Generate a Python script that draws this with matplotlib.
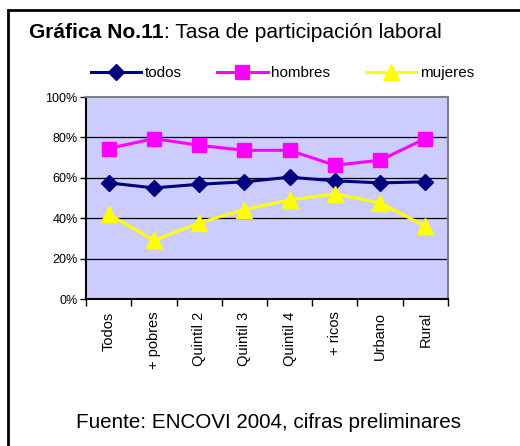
import matplotlib
matplotlib.use("Agg")
import matplotlib.pyplot as plt
from matplotlib.patches import Rectangle
from matplotlib.ticker import FixedLocator, FuncFormatter

plt.rcParams['font.family'] = ['Liberation Sans', 'DejaVu Sans']

categories = ["Todos", "+ pobres", "Quintil 2", "Quintil 3", "Quintil 4", "+ ricos", "Urbano", "Rural"]
todos = [57.5, 55.0, 56.8, 58.0, 60.3, 58.5, 57.5, 58.0]
hombres = [74.5, 79.4, 76.1, 73.6, 73.6, 66.2, 68.7, 79.4]
mujeres = [42.0, 29.0, 37.7, 44.3, 49.0, 52.0, 47.6, 36.0]
yticks = [0, 20, 40, 60, 80, 100]

W, H = 520, 446
fig = plt.figure(figsize=(W / 100, H / 100), dpi=100)
ax = fig.add_axes([86 / W, 1 - 299 / H, (448 - 86) / W, (299 - 97) / H])
ax.set_facecolor('#CCCCFF')

x = [i + 0.5 for i in range(len(categories))]
l1, = ax.plot(x, todos, color='#000080', lw=2.2, marker='D', ms=8, mec='#000080', mfc='#000080', label='todos', zorder=5)
l2, = ax.plot(x, hombres, color='#FF00FF', lw=2.2, marker='s', ms=10, mec='#FF00FF', mfc='#FF00FF', label='hombres', zorder=5)
l3, = ax.plot(x, mujeres, color='#FFFF00', lw=2.2, marker='^', ms=11, mec='#FFFF00', mfc='#FFFF00', label='mujeres', zorder=5)

ax.set_xlim(0, len(categories))
ax.set_ylim(0, 100)
ax.yaxis.set_major_locator(FixedLocator(yticks))
ax.yaxis.set_major_formatter(FuncFormatter(lambda v, p: f"{int(v)}%"))
ax.xaxis.set_major_locator(FixedLocator(list(range(len(categories) + 1))))
ax.xaxis.set_major_formatter(FuncFormatter(lambda v, p: ""))
ax.xaxis.set_minor_locator(FixedLocator(x))
ax.set_xticklabels(categories, minor=True, rotation=90, fontsize=10.5, va='top', ha='center')
ax.tick_params(axis='x', which='minor', length=0, pad=9)
ax.tick_params(axis='x', which='major', length=5, width=1, direction='out', color='black')
ax.tick_params(axis='y', length=4, width=1, direction='out', labelsize=9, pad=2)
for v in yticks[1:-1]:
    ax.axhline(v, color='black', lw=0.9, zorder=1)
ax.spines['left'].set_color('black')
ax.spines['bottom'].set_color('black')
ax.spines['top'].set_color('#808080')
ax.spines['right'].set_color('#808080')
for s in ax.spines.values():
    s.set_linewidth(1.5)

fig.legend(handles=[l1, l2, l3], loc='center', bbox_to_anchor=(282.5 / W, 1 - 73 / H),
           ncol=3, frameon=False, fontsize=11, handlelength=3.3, handletextpad=0.25,
           columnspacing=2.3, borderaxespad=0, borderpad=0)

# outer frame
fig.patches.append(Rectangle((8 / W, -0.05), 1.2, (1 - 10 / H) + 0.05, transform=fig.transFigure,
                             fill=False, edgecolor='black', lw=2, clip_on=False))

t1 = fig.text(29 / W, 1 - 33 / H, "Gráfica No.11", fontsize=15.1, fontweight='bold', va='center', ha='left')
fig.canvas.draw()
bb = t1.get_window_extent(renderer=fig.canvas.get_renderer())
fig.text(bb.x1 / W, 1 - 33 / H, ": Tasa de participación laboral", fontsize=15.1, va='center', ha='left')

fig.text(269 / W, 1 - 422 / H, "Fuente: ENCOVI 2004, cifras preliminares", fontsize=14.9, ha='center', va='center')

fig.savefig('out.png', dpi=100)
